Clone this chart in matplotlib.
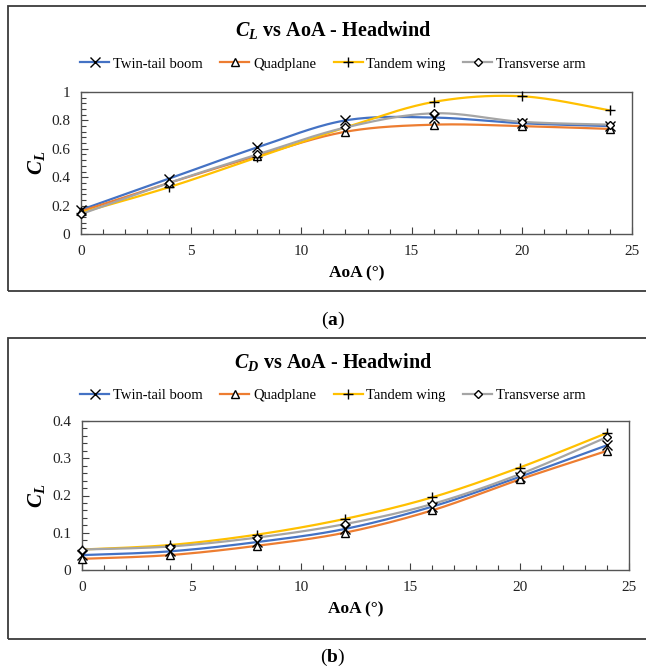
import numpy as np
import matplotlib
matplotlib.use("Agg")
import matplotlib.pyplot as plt
from matplotlib.lines import Line2D
from matplotlib.patches import Rectangle
from matplotlib.ticker import MultipleLocator

plt.rcParams["font.family"] = ["Liberation Serif", "DejaVu Serif"]
plt.rcParams["mathtext.fontset"] = "custom"
plt.rcParams["mathtext.rm"] = "Liberation Serif"
plt.rcParams["mathtext.it"] = "Liberation Serif:italic"
plt.rcParams["mathtext.bf"] = "Liberation Serif:bold"
plt.rcParams["mathtext.bfit"] = "Liberation Serif:bold:italic"

# --- datos ---
aoa = [0, 4, 8, 12, 16, 20, 24]
series_names = ["Twin-tail boom", "Quadplane", "Tandem wing", "Transverse arm"]

cl_twin = [0.17, 0.39, 0.61, 0.80, 0.82, 0.78, 0.76]
cl_quad = [0.16, 0.36, 0.55, 0.72, 0.77, 0.76, 0.74]
cl_tandem = [0.15, 0.33, 0.54, 0.75, 0.93, 0.97, 0.87]
cl_transverse = [0.14, 0.36, 0.56, 0.75, 0.85, 0.79, 0.77]

cd_twin = [0.040, 0.050, 0.075, 0.110, 0.170, 0.250, 0.335]
cd_quad = [0.030, 0.040, 0.065, 0.100, 0.160, 0.243, 0.320]
cd_tandem = [0.055, 0.067, 0.095, 0.137, 0.195, 0.275, 0.368]
cd_transverse = [0.055, 0.063, 0.087, 0.123, 0.177, 0.257, 0.357]

colors = ["#4472C4", "#ED7D31", "#FFC000", "#A5A5A5"]
markers = ["x", "^", "+", "D"]
msizes = [6.5, 5.5, 7.5, 4.5]


def smooth(x, y, n=30):
    # curva suavizada tipo Excel (Catmull-Rom)
    x = np.asarray(x, float)
    y = np.asarray(y, float)
    px = np.concatenate([[x[0]], x, [x[-1]]])
    py = np.concatenate([[y[0]], y, [y[-1]]])
    xs, ys = [], []
    t = np.linspace(0, 1, n)
    for i in range(1, len(px) - 2):
        p0, p1, p2, p3 = (np.array([px[j], py[j]]) for j in range(i - 1, i + 3))
        c1 = p1 + (p2 - p0) / 6
        c2 = p2 - (p3 - p1) / 6
        pts = ((1 - t)[:, None] ** 3 * p1 + 3 * ((1 - t) ** 2 * t)[:, None] * c1
               + 3 * ((1 - t) * t ** 2)[:, None] * c2 + (t ** 3)[:, None] * p2)
        xs.extend(pts[:, 0])
        ys.extend(pts[:, 1])
    return xs, ys


fig = plt.figure(figsize=(6.46, 6.70), dpi=100)
W, H = 646, 670


def fx(px):
    return px / W


def fy(py):
    return 1 - py / H


# marcos de cada grafico
for top, bot in [(6, 291), (338, 639)]:
    fig.patches.append(Rectangle((fx(8), fy(bot)), 1.1, fy(top) - fy(bot),
                                 transform=fig.transFigure, fill=False,
                                 edgecolor="#3a3a3a", linewidth=1.3))

panels = [
    dict(rect=(81, 92, 632, 234), data=[cl_twin, cl_quad, cl_tandem, cl_transverse],
         ylim=1.0, major=0.2, minor=0.04, title=r"$\mathbfit{C}_{\mathbfit{L}}$ vs AoA - Headwind",
         ty=30, ly=64, tag="a", tagy=320),
    dict(rect=(82, 421, 629, 570), data=[cd_twin, cd_quad, cd_tandem, cd_transverse],
         ylim=0.4, major=0.1, minor=0.02, title=r"$\mathbfit{C}_{\mathbfit{D}}$ vs AoA - Headwind",
         ty=362, ly=395, tag="b", tagy=657),
]

for p in panels:
    l, t, r, b = p["rect"]
    ax = fig.add_axes([fx(l), fy(b), fx(r) - fx(l), fy(t) - fy(b)])
    for vals, c, m, ms in zip(p["data"], colors, markers, msizes):
        xs, ys = smooth(aoa, vals)
        ax.plot(xs, ys, color=c, lw=1.6, zorder=2)
        ax.plot(aoa, vals, ls="none", marker=m, ms=ms, mec="black", mfc="white",
                mew=1.0, zorder=3, clip_on=False)
    ax.set_xlim(0, 25)
    ax.set_ylim(0, p["ylim"])
    ax.xaxis.set_major_locator(MultipleLocator(5))
    ax.xaxis.set_minor_locator(MultipleLocator(1))
    ax.yaxis.set_major_locator(MultipleLocator(p["major"]))
    ax.yaxis.set_minor_locator(MultipleLocator(p["minor"]))
    ax.yaxis.set_major_formatter(matplotlib.ticker.FuncFormatter(lambda v, _: f"{v:g}"))
    ax.tick_params(which="both", direction="in", colors="#404040", labelcolor="#222222",
                   labelsize=11)
    ax.tick_params(which="major", length=5, width=0.8)
    ax.tick_params(which="minor", length=3.5, width=0.8)
    ax.tick_params(axis="x", pad=8)
    ax.tick_params(axis="y", pad=8)
    for s in ax.spines.values():
        s.set_color("#555555")
        s.set_linewidth(1.0)
    ax.set_xlabel("AoA (°)", fontsize=12.5, fontweight="bold", labelpad=5)
    ax.set_ylabel(r"$\mathbfit{C}_{\mathbfit{L}}$", fontsize=15, labelpad=6)
    ax.yaxis.set_label_coords(-(l - 47) / (r - l), 0.5)

    fig.text(fx(333), fy(p["ty"]), p["title"], ha="center", va="center",
             fontsize=14.5, fontweight="bold")
    handles = [Line2D([], [], color=c, lw=1.6, marker=m, ms=ms, mec="black",
                      mfc="white", mew=1.0)
               for c, m, ms in zip(colors, markers, msizes)]
    fig.legend(handles, series_names, loc="center", ncol=4, frameon=False,
               bbox_to_anchor=(fx(333), fy(p["ly"])), fontsize=10.5,
               handlelength=2.0, handletextpad=0.25, columnspacing=1.2)
    fig.text(fx(333), fy(p["tagy"]), "(" + r"$\mathbf{" + p["tag"] + "}$" + ")",
             ha="center", va="center", fontsize=14)

fig.savefig("out.png", dpi=100)
